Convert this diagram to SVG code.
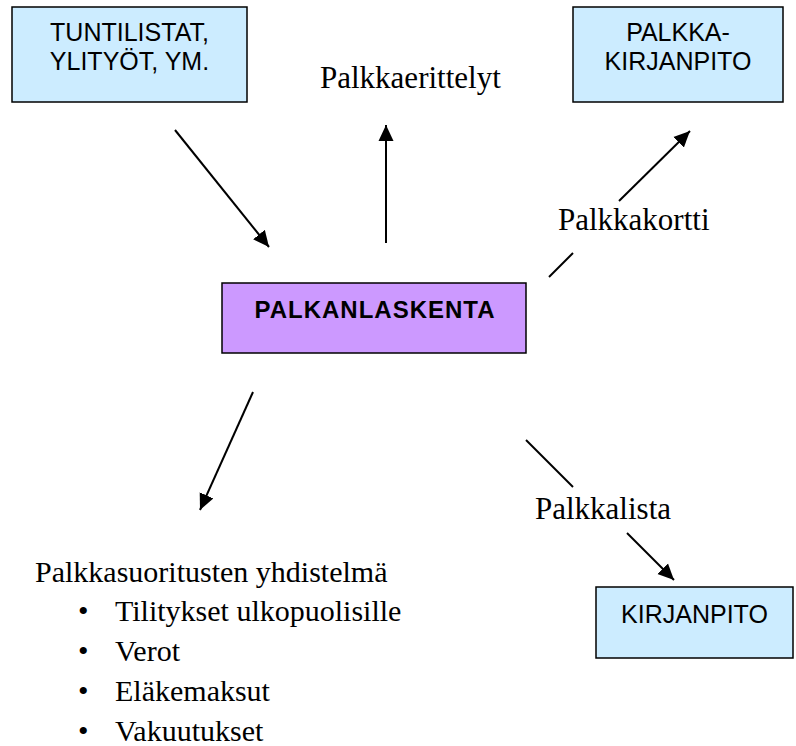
<svg xmlns="http://www.w3.org/2000/svg" width="796" height="746" viewBox="0 0 796 746">
<defs>
<marker id="ah" markerUnits="userSpaceOnUse" markerWidth="18" markerHeight="16" refX="16" refY="8" orient="auto">
<path d="M0,0.5 L16,8 L0,15.5 Z" fill="#000"/>
</marker>
<style>
.box{fill:#CCECFF;stroke:#000;stroke-width:1.5}
.main{fill:#CC99FF;stroke:#000;stroke-width:1.5}
.bt{font-family:"Liberation Sans",Arial,sans-serif;font-size:25px;fill:#000;text-anchor:middle}
.mt{font-family:"Liberation Sans",Arial,sans-serif;font-size:24px;font-weight:bold;letter-spacing:1px;fill:#000;text-anchor:middle}
.lbl{font-family:"Liberation Serif","Times New Roman",serif;font-size:31px;fill:#000}
.li{font-family:"Liberation Serif","Times New Roman",serif;font-size:30px;fill:#000}
.ln{stroke:#000;stroke-width:2;fill:none}
</style>
</defs>
<rect width="796" height="746" fill="#fff"/>
<g id="tuntilistat">
<rect class="box" x="12" y="7" width="235" height="95"/>
<text class="bt" x="129.5" y="41">TUNTILISTAT,</text>
<text class="bt" x="129.5" y="70">YLITYÖT, YM.</text>
</g>
<g id="palkkakirjanpito">
<rect class="box" x="573" y="7" width="210" height="95"/>
<text class="bt" x="678" y="41">PALKKA-</text>
<text class="bt" x="678" y="70">KIRJANPITO</text>
</g>
<g id="palkanlaskenta">
<rect class="main" x="222" y="283" width="304" height="70"/>
<text class="mt" x="375" y="318">PALKANLASKENTA</text>
</g>
<g id="kirjanpito">
<rect class="box" x="596" y="587" width="197" height="71"/>
<text class="bt" x="694.5" y="623">KIRJANPITO</text>
</g>
<g id="labels">
<text class="lbl" x="320" y="88">Palkkaerittelyt</text>
<text class="lbl" x="558" y="230">Palkkakortti</text>
<text class="lbl" x="535" y="519">Palkkalista</text>
</g>
<g id="yhdistelma">
<text class="li" x="35" y="582">Palkkasuoritusten yhdistelmä</text>
<text class="li" x="78" y="621">•</text>
<text class="li" x="115" y="621">Tilitykset ulkopuolisille</text>
<text class="li" x="78" y="661">•</text>
<text class="li" x="115" y="661">Verot</text>
<text class="li" x="78" y="701">•</text>
<text class="li" x="115" y="701">Eläkemaksut</text>
<text class="li" x="78" y="741">•</text>
<text class="li" x="115" y="741">Vakuutukset</text>
</g>
<g id="connectors">
<line class="ln" x1="175" y1="130" x2="269" y2="247" marker-end="url(#ah)"/>
<line class="ln" x1="386" y1="243" x2="386" y2="125" marker-end="url(#ah)"/>
<line class="ln" x1="549" y1="277" x2="573" y2="253"/>
<line class="ln" x1="619" y1="201" x2="690" y2="131" marker-end="url(#ah)"/>
<line class="ln" x1="253" y1="392" x2="200" y2="510" marker-end="url(#ah)"/>
<line class="ln" x1="526" y1="440" x2="573" y2="487"/>
<line class="ln" x1="627" y1="533" x2="674" y2="580" marker-end="url(#ah)"/>
</g>
</svg>
